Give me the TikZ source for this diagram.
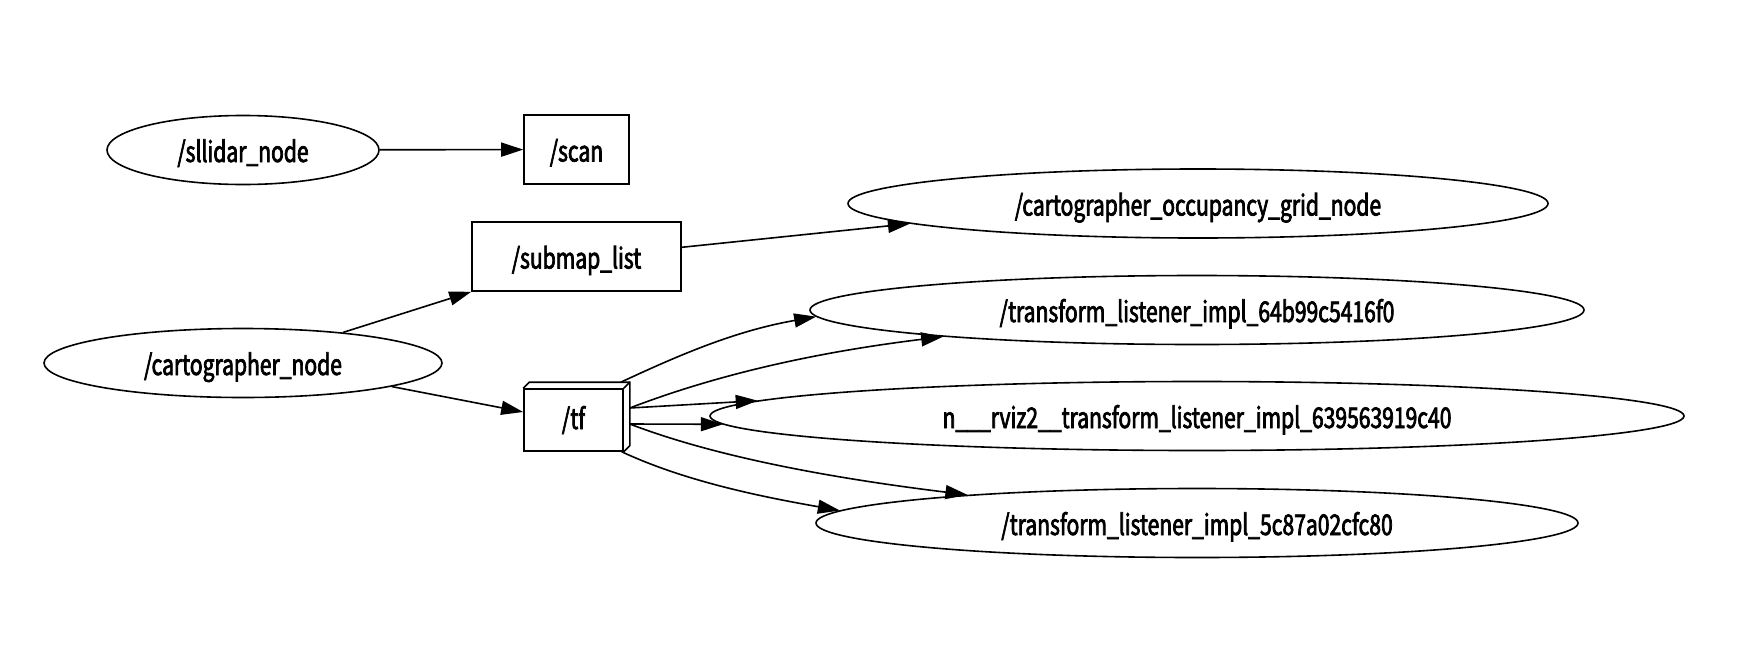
\documentclass[tikz,border=0pt]{standalone}
\usepackage{fontspec}
\setmainfont{Noto Sans CJK SC}[FakeBold=2.5,FakeStretch=0.74]
\usetikzlibrary{shapes.geometric,arrows.meta,calc}

\begin{document}
\begin{tikzpicture}[x=1pt,y=1pt,line width=1.6pt,>={Triangle[length=22pt,width=14pt]},
  every node/.style={font=\fontsize{28.5}{32}\selectfont,text height=24pt,text depth=0pt},
  rosnode/.style={draw,ellipse,inner sep=0pt,minimum height=69pt},
  topic/.style={draw,rectangle,inner sep=0pt,minimum height=69pt},
  edge/.style={->}]
  \useasboundingbox (0,0) rectangle (1748,-659);
  % nodes and topics
  \node[rosnode,minimum width=272pt] (sllidar) at (243,-150) {/sllidar\_node};
  \node[topic,minimum width=105pt] (scan) at (576.5,-149.5) {/scan};
  \node[topic,minimum width=209pt] (submap) at (576.5,-256.5) {/submap\_list};
  \node[rosnode,minimum width=398pt] (carto) at (243,-363) {/cartographer\_node};
  \node[topic,minimum width=99pt,minimum height=62pt,text height=18pt] (tf) at (573.5,-420) {/tf};
  \draw (tf.north west) -- ++(6,6) -- ($(tf.north east)+(6,6)$)
    -- ($(tf.south east)+(6,6)$) -- (tf.south east);
  \draw (tf.north east) -- ++(6,6);
  \node[rosnode,minimum width=700pt] (occgrid) at (1198,-203.5) {/cartographer\_occupancy\_grid\_node};
  \node[rosnode,minimum width=774pt] (tl64) at (1197,-310) {/transform\_listener\_impl\_64b99c5416f0};
  \node[rosnode,minimum width=974pt] (rviz) at (1197,-416) {n\_\_\_rviz2\_\_transform\_listener\_impl\_639563919c40};
  \node[rosnode,minimum width=762pt] (tl5c) at (1197,-523) {/transform\_listener\_impl\_5c87a02cfc80};
  % edges
  \draw[edge] (sllidar) -- (scan);
  \draw[edge] (carto.17.5) -- (submap.south west);
  \draw[edge] (carto.351.3) -- ([yshift=8pt]tf.west);
  \draw[edge] (submap.5) -- (occgrid.184.75);
  \draw[edge] ($(tf.north east)+(-3,6)$) .. controls +(25:70) and +(190:80) .. (tl64.181.7);
  \draw[edge] ($(tf.east)+(6,12)$) .. controls +(21:100) and +(187:120) .. (tl64.186.9);
  \draw[edge] ($(tf.east)+(6,12)$) -- (rviz.178.5);
  \draw[edge] ($(tf.east)+(6,-4)$) -- (rviz.181.5);
  \draw[edge] ($(tf.east)+(6,-4)$) .. controls +(-21:100) and +(173:120) .. (tl5c.173.1);
  \draw[edge] ($(tf.south east)+(-2,0)$) .. controls +(-25:70) and +(170:80) .. (tl5c.178.4);
\end{tikzpicture}
\end{document}
